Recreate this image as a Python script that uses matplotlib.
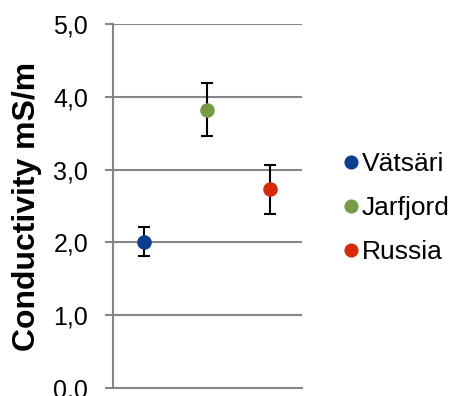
import matplotlib
matplotlib.use('Agg')
import matplotlib.pyplot as plt

plt.rcParams['font.family'] = ['Liberation Sans', 'DejaVu Sans']

sites = ['Vätsäri', 'Jarfjord', 'Russia']
conductivity = [2.01, 3.82, 2.73]
err_low = [1.82, 3.46, 2.39]
err_high = [2.21, 4.19, 3.07]
colors = ['#0D3D8E', '#779A45', '#D52B0A']
yticks = [0.0, 1.0, 2.0, 3.0, 4.0, 5.0]
ytick_labels = ['0,0', '1,0', '2,0', '3,0', '4,0', '5,0']

fig = plt.figure(figsize=(4.52, 3.96), dpi=100)
ax = fig.add_axes([0.25, 0.0202, 0.418, 0.9192])

for i in range(len(sites)):
    x = i + 1
    lo = conductivity[i] - err_low[i]
    hi = err_high[i] - conductivity[i]
    ax.errorbar([x], [conductivity[i]], yerr=[[lo], [hi]], fmt='none',
                ecolor='black', elinewidth=1.5, capsize=4.2, capthick=1.5, zorder=3)
    ax.plot([x], [conductivity[i]], 'o', color=colors[i], markersize=10.5,
            label=sites[i], zorder=4, markeredgewidth=0)

ax.set_xlim(0.5, 3.5)
ax.set_ylim(0, 5)
ax.set_yticks(yticks)
ax.set_yticklabels(ytick_labels)
ax.set_xticks([])
ax.tick_params(axis='y', labelsize=18, length=5.8, width=1.5, color='#868686', pad=12)
ax.yaxis.grid(True, color='#868686', linewidth=1.5)
ax.set_axisbelow(True)
for s in ['top', 'right']:
    ax.spines[s].set_visible(False)
for s in ['left', 'bottom']:
    ax.spines[s].set_color('#868686')
    ax.spines[s].set_linewidth(1.5)

ax.set_ylabel('Conductivity mS/m', fontsize=23, fontweight='bold')
ax.yaxis.set_label_coords(-0.375, 0.5)

fig.legend(loc='center left', bbox_to_anchor=(0.76, 0.475), frameon=False,
           fontsize=19, handlelength=0.55, handletextpad=0.15, labelspacing=0.76,
           borderpad=0, borderaxespad=0, markerscale=0.97)

fig.savefig('out.png', dpi=100)
